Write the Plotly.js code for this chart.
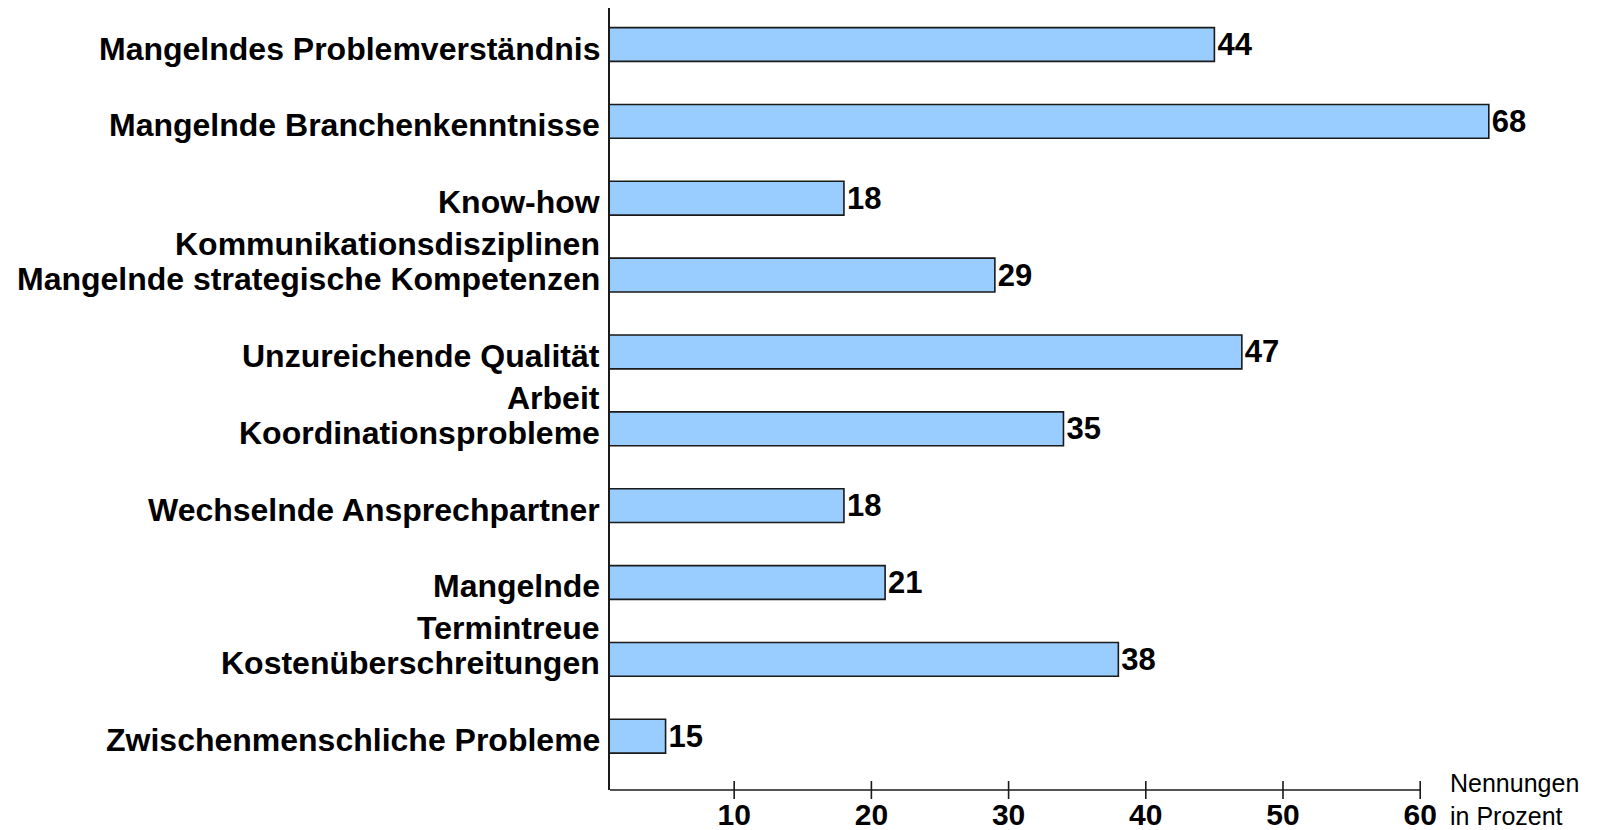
<!DOCTYPE html>
<html>
<head>
<meta charset="utf-8">
<script src="https://cdn.plot.ly/plotly-3.0.1.min.js"></script>
<style>html,body{margin:0;padding:0;background:#fff;}#chart{width:1603px;height:830px;}</style>
</head>
<body>
<div id="chart"></div>
<script>
// Categories (top to bottom)
const categories = [
  "Mangelndes Problemverständnis",
  "Mangelnde Branchenkenntnisse",
  "Know-how Kommunikationsdisziplinen",
  "Mangelnde strategische Kompetenzen",
  "Unzureichende Qualität Arbeit",
  "Koordinationsprobleme",
  "Wechselnde Ansprechpartner",
  "Mangelnde Termintreue",
  "Kostenüberschreitungen",
  "Zwischenmenschliche Probleme"
];
// Text lines of each category label as printed
const labelLines = [
  ["Mangelndes Problemverständnis"],
  ["Mangelnde Branchenkenntnisse"],
  ["Know-how", "Kommunikationsdisziplinen"],
  ["Mangelnde strategische Kompetenzen"],
  ["Unzureichende Qualität", "Arbeit"],
  ["Koordinationsprobleme"],
  ["Wechselnde Ansprechpartner"],
  ["Mangelnde", "Termintreue"],
  ["Kostenüberschreitungen"],
  ["Zwischenmenschliche Probleme"]
];
// Bar lengths as drawn in the picture
const barLengths = [45, 65, 18, 29, 47, 34, 18, 21, 38, 5];
// Value labels printed next to the bars (Nennungen in Prozent)
const valueLabels = [44, 68, 18, 29, 47, 35, 18, 21, 38, 15];
// Axis ticks
const tickVals = [10, 20, 30, 40, 50, 60];
const tickText = ["10", "20", "30", "40", "50", "60"];
const axisUnit = "Nennungen<br>in Prozent";

const FONT = "Liberation Sans, Arial, Helvetica, sans-serif";

const trace = {
  type: "bar",
  orientation: "h",
  y: categories,
  x: barLengths,
  width: 0.44,
  text: valueLabels.map(String),
  textposition: "outside",
  textfont: {family: FONT, size: 31, color: "#000", weight: "bold"},
  constraintext: "none",
  cliponaxis: false,
  marker: {color: "#99CCFF", line: {color: "#1a1a1a", width: 1.6}},
  hoverinfo: "skip"
};

const annotations = [];
labelLines.forEach((lines, i) => {
  lines.forEach((t, j) => {
    annotations.push({
      xref: "paper", x: 0, xanchor: "right", xshift: -8,
      yref: "y", y: categories[i], yanchor: "middle", yshift: -4 - j * 42,
      text: "<b>" + t + "</b>", showarrow: false,
      font: {family: FONT, size: 32, color: "#000"}
    });
  });
});
annotations.push({
  xref: "x", x: tickVals[tickVals.length - 1], xanchor: "left", xshift: 28,
  yref: "paper", y: 0, yanchor: "middle", yshift: -9,
  text: axisUnit, align: "left", showarrow: false,
  font: {family: FONT, size: 25, color: "#000"}
});

const shapes = [{
  type: "line", xref: "x", yref: "paper",
  x0: 0.95, x1: tickVals[tickVals.length - 1], y0: 0, y1: 0,
  line: {color: "#1a1a1a", width: 1.6}
}];
tickVals.forEach(v => {
  shapes.push({
    type: "line", xref: "x", yref: "paper", ysizemode: "pixel", yanchor: 0,
    x0: v, x1: v, y0: -9, y1: 9,
    line: {color: "#1a1a1a", width: 1.6}
  });
});

const layout = {
  width: 1603, height: 830,
  margin: {l: 610, r: 46, t: 8, b: 40, pad: 0},
  paper_bgcolor: "#fff", plot_bgcolor: "#fff",
  showlegend: false,
  font: {family: FONT, color: "#000"},
  xaxis: {
    range: [0.95, 69.97], showgrid: false, zeroline: false, showline: false,
    tickmode: "array", tickvals: tickVals, ticktext: tickText,
    ticks: "", ticklabelstandoff: 4,
    tickfont: {family: FONT, size: 30, color: "#000", weight: "bold"},
    fixedrange: true
  },
  yaxis: {
    type: "category", categoryorder: "array", categoryarray: categories,
    range: [9.70, -0.475], showgrid: false, zeroline: false,
    showline: true, linecolor: "#1a1a1a", linewidth: 1.6,
    showticklabels: false, ticks: "", fixedrange: true
  },
  annotations: annotations,
  shapes: shapes
};

Plotly.newPlot("chart", [trace], layout, {displayModeBar: false, staticPlot: true});
</script>
</body>
</html>
